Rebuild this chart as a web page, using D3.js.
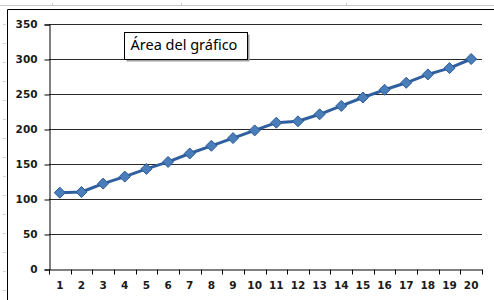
<!DOCTYPE html>
<html>
<head>
<meta charset="utf-8">
<script src="https://cdn.jsdelivr.net/npm/d3@7"></script>
<style>
  body { margin: 0; background: #fff; }
  svg { display: block; }
</style>
</head>
<body>
<script>
var categories = ["1","2","3","4","5","6","7","8","9","10","11","12","13","14","15","16","17","18","19","20"];
var values = [109, 110, 122, 132, 143, 153, 165, 176, 187, 198, 209, 211, 221, 233, 245, 256, 266, 278, 287, 300];
var yTicks = [0, 50, 100, 150, 200, 250, 300, 350];
var tooltipText = "Área del gráfico";

var width = 494;
var height = 300;
var plotLeft = 49, plotRight = 482, plotTop = 24, plotBottom = 269;

var svg = d3.select("body").append("svg")
  .attr("width", width)
  .attr("height", height);

// spreadsheet background lines
svg.append("line")
  .attr("x1", 0).attr("x2", width)
  .attr("y1", 5.5).attr("y2", 5.5)
  .attr("stroke", "#c8c8c8");
[52, 181, 346].forEach(function(x) {
  svg.append("line")
    .attr("x1", x + 0.5).attr("x2", x + 0.5)
    .attr("y1", 3).attr("y2", 6)
    .attr("stroke", "#c8c8c8");
});
for (var r = 24; r < height; r += 19) {
  svg.append("line")
    .attr("x1", 3).attr("x2", 6)
    .attr("y1", r + 0.5).attr("y2", r + 0.5)
    .attr("stroke", "#d0d0d0");
}

// chart frame
svg.append("path")
  .attr("d", "M7.5," + height + "V9.5H" + width)
  .attr("fill", "none")
  .attr("stroke", "#000");

var xScale = d3.scaleBand()
  .domain(categories)
  .range([plotLeft, plotRight]);

var yScale = d3.scaleLinear()
  .domain([0, 350])
  .range([plotBottom, plotTop]);

// gridlines
svg.append("g")
  .selectAll("line")
  .data(yTicks.filter(d => d > 0))
  .enter()
  .append("line")
    .attr("x1", plotLeft).attr("x2", plotRight)
    .attr("y1", d => Math.round(yScale(d)) + 0.5)
    .attr("y2", d => Math.round(yScale(d)) + 0.5)
    .attr("stroke", "#2a2a2a");

// y axis
var yAxis = d3.axisLeft(yScale)
  .tickValues(yTicks)
  .tickSize(5)
  .tickPadding(7);

var yG = svg.append("g")
  .attr("transform", "translate(" + (plotLeft + 0.5) + ",0.5)")
  .call(yAxis);

// x axis (ticks between categories)
var xAxis = d3.axisBottom(xScale)
  .tickSize(0)
  .tickPadding(12);

var xG = svg.append("g")
  .attr("transform", "translate(0," + (plotBottom + 0.5) + ")")
  .call(xAxis);

xG.selectAll(".tick-sep")
  .data(categories.concat(["end"]))
  .enter()
  .append("line")
    .attr("class", "tick-sep")
    .attr("x1", (d, i) => Math.round(plotLeft + i * xScale.step()) + 0.5)
    .attr("x2", (d, i) => Math.round(plotLeft + i * xScale.step()) + 0.5)
    .attr("y1", 0).attr("y2", 5)
    .attr("stroke", "#000");

[yG, xG].forEach(function(g) {
  g.select(".domain").attr("stroke", "#000");
  g.selectAll(".tick line").attr("stroke", "#000");
  g.selectAll("text")
    .attr("fill", "#1a1a1a")
    .style("font-family", "'DejaVu Sans', Verdana, sans-serif")
    .style("font-weight", "bold")
    .style("font-size", "10.5px");
});

// series line
var line = d3.line()
  .x((d, i) => xScale(categories[i]) + xScale.bandwidth() / 2)
  .y(d => yScale(d));

svg.append("path")
  .datum(values)
  .attr("d", line)
  .attr("fill", "none")
  .attr("stroke", "#2f5f9e")
  .attr("stroke-width", 3)
  .attr("stroke-linejoin", "round");

// diamond markers
svg.append("g")
  .selectAll("path")
  .data(values)
  .enter()
  .append("path")
    .attr("transform", (d, i) => "translate(" + (xScale(categories[i]) + xScale.bandwidth() / 2) + "," + yScale(d) + ")")
    .attr("d", "M0,-5.5L5.5,0L0,5.5L-5.5,0Z")
    .attr("fill", "#4a7ebb")
    .attr("stroke", "#2c5a94")
    .attr("stroke-width", 1);

// chart area tooltip
var tip = svg.append("g").attr("transform", "translate(124.5,32.5)");
tip.append("rect")
  .attr("x", 2).attr("y", 2)
  .attr("width", 123).attr("height", 27)
  .attr("fill", "#a0a0a0");
tip.append("rect")
  .attr("width", 123).attr("height", 27)
  .attr("fill", "#fff")
  .attr("stroke", "#000");
tip.append("text")
  .attr("x", 6).attr("y", 17.5)
  .style("font-family", "'Noto Sans', 'Open Sans', sans-serif")
  .style("font-size", "14.5px")
  .attr("fill", "#000")
  .text(tooltipText);
</script>
</body>
</html>
